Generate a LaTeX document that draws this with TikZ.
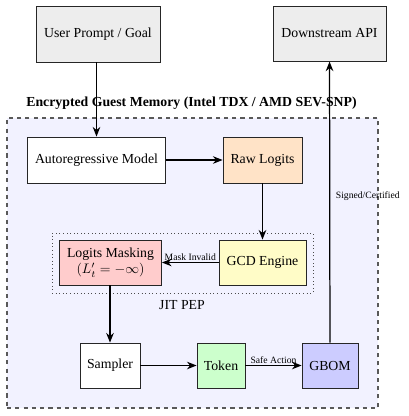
\documentclass[tikz,border=0pt]{standalone}
\usepackage{fontspec}
\setmainfont{Liberation Serif}
\usetikzlibrary{arrows.meta}
\begin{document}
\begin{tikzpicture}[x=0.725pt,y=-0.725pt,
  box/.style={draw=black!85,line width=0.6pt,minimum height=32.6pt,inner sep=2pt,font=\fontsize{10}{12}\selectfont,align=center},
  arr/.style={line width=0.9pt,-{Stealth[length=7pt,width=5.5pt]}},
  lbl/.style={font=\fontsize{7}{8}\selectfont,inner sep=1pt}]
\useasboundingbox (0,0) rectangle (409,416);
% enclosure
\node[draw=black!65,dashed,line width=0.9pt,fill=blue!5,minimum width=269pt,minimum height=210.3pt,inner sep=0pt] (encl) at (192.5,263) {};
\node[font=\bfseries\fontsize{10}{12}\selectfont,inner sep=0pt] (title) at (191.5,103) {Encrypted Guest Memory (Intel TDX / AMD SEV-SNP)};
% JIT PEP dotted box
\node[draw=black!70,dotted,line width=0.6pt,minimum width=189.2pt,minimum height=43.5pt,inner sep=0pt] (pep) at (182.5,263) {};
\node[font=\fontsize{10}{12}\selectfont,inner sep=0pt] (peplbl) at (182,305) {JIT PEP};
% nodes
\node[box,fill=black!7,minimum width=89.9pt,minimum height=40.6pt] (user) at (98,34) {User Prompt / Goal};
\node[box,fill=black!7,minimum width=82pt,minimum height=40pt] (down) at (329.5,33.5) {Downstream API};
\node[box,fill=white,minimum width=100pt,minimum height=33.4pt] (auto) at (96.5,160) {Autoregressive Model};
\node[box,fill=orange!22,minimum width=57.3pt,minimum height=33.4pt] (raw) at (262.5,160) {Raw Logits};
\node[box,fill=red!20,minimum width=74pt,inner sep=1pt] (mask) at (110.5,262.5) {Logits Masking\\$(L'_t=-\infty)$};
\node[box,fill=yellow!22,minimum width=63pt] (gcd) at (262.5,262.5) {GCD Engine};
\node[box,fill=white,minimum width=43.5pt] (samp) at (110,365.5) {Sampler};
\node[box,fill=green!20,minimum width=34.8pt] (tok) at (221,365.5) {Token};
\node[box,fill=blue!20,minimum width=40.6pt] (gbom) at (330,365.5) {GBOM};
% connectors
\draw[arr] (user.south -| auto.north) -- (auto.north);
\draw[arr] (auto) -- (raw);
\draw[arr] (raw) -- (gcd);
\draw[arr] (gcd) -- node[lbl,above] {Mask Invalid} (mask);
\draw[arr] (mask.south -| samp.north) -- (samp.north);
\draw[arr] (samp) -- (tok);
\draw[arr] (tok) -- node[lbl,above] {Safe Action} (gbom);
\draw[arr] (gbom) -- node[lbl,right,pos=0.52,xshift=3pt] {Signed/Certified} (down);
\end{tikzpicture}
\end{document}
